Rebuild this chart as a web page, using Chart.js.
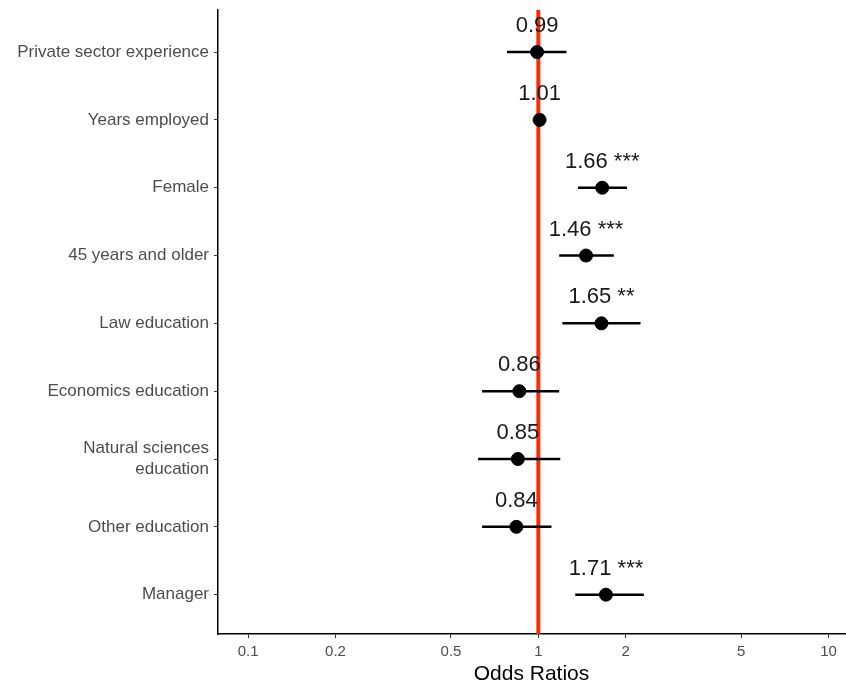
<!DOCTYPE html>
<html>
<head>
<meta charset="utf-8">
<script src="https://cdn.jsdelivr.net/npm/chart.js@4.4.1/dist/chart.umd.min.js"></script>
<style>
  html, body { margin: 0; padding: 0; background: #fff; }
  #wrap { width: 846px; height: 689px; }
</style>
</head>
<body>
<div id="wrap"><canvas id="forest"></canvas></div>
<script>
// odds ratios
const categories = ['Private sector experience', 'Years employed', 'Female', '45 years and older',
    'Law education', 'Economics education', ['Natural sciences', 'education'], 'Other education', 'Manager'];
const oddsRatios = [0.99, 1.01, 1.66, 1.46, 1.65, 0.86, 0.85, 0.84, 1.71];
const ciLow  = [0.78, 1.00, 1.37, 1.18, 1.21, 0.64, 0.62, 0.64, 1.34];
const ciHigh = [1.25, 1.02, 2.02, 1.82, 2.25, 1.18, 1.19, 1.11, 2.31];
const stars = ['', '', '***', '***', '**', '', '', '', '***'];
const xTicks = [0.1, 0.2, 0.5, 1, 2, 5, 10];

const points = oddsRatios.map((v, i) => ({ x: v, y: i }));
const FONT = '"Liberation Sans", Arial, sans-serif';

const forestPlugin = {
    id: 'forest',
    beforeDatasetsDraw(chart) {
        const { ctx, scales: { x, y }, chartArea } = chart;
        ctx.save();
        // reference line at 1
        const x1 = x.getPixelForValue(1);
        ctx.strokeStyle = '#ff2a00';
        ctx.lineWidth = 4;
        ctx.beginPath();
        ctx.moveTo(x1, chartArea.top);
        ctx.lineTo(x1, chartArea.bottom);
        ctx.stroke();
        // error bars
        ctx.strokeStyle = '#000';
        ctx.lineWidth = 2.5;
        for (let i = 0; i < oddsRatios.length; i++) {
            const py = y.getPixelForValue(i);
            ctx.beginPath();
            ctx.moveTo(x.getPixelForValue(ciLow[i]), py);
            ctx.lineTo(x.getPixelForValue(ciHigh[i]), py);
            ctx.stroke();
        }
        ctx.restore();
    },
    afterDatasetsDraw(chart) {
        const { ctx, scales: { x, y } } = chart;
        ctx.save();
        ctx.font = '22px ' + FONT;
        ctx.fillStyle = '#1a1a1a';
        ctx.textAlign = 'center';
        ctx.textBaseline = 'middle';
        for (let i = 0; i < oddsRatios.length; i++) {
            const label = oddsRatios[i].toFixed(2) + (stars[i] ? ' ' + stars[i] : '');
            ctx.fillText(label, x.getPixelForValue(oddsRatios[i]), y.getPixelForValue(i) - 26);
        }
        ctx.restore();
    }
};

new Chart(document.getElementById('forest'), {
    type: 'scatter',
    data: {
        datasets: [{
            data: points,
            backgroundColor: '#000',
            borderColor: '#000',
            pointRadius: 6.5,
            pointHoverRadius: 6.5
        }]
    },
    options: {
        responsive: true,
        maintainAspectRatio: false,
        animation: false,
        layout: { autoPadding: false, padding: { top: 10, right: 1, left: 0, bottom: 0 } },
        plugins: { legend: { display: false }, tooltip: { enabled: false } },
        scales: {
            x: {
                type: 'logarithmic',
                min: 0.0787,
                max: 11.4,
                afterBuildTicks(scale) {
                    scale.ticks = xTicks.map(v => ({ value: v }));
                },
                afterFit(scale) {
                    scale.height = 55;
                    scale.paddingLeft = 0;
                    scale.paddingRight = 0;
                },
                ticks: {
                    color: '#4d4d4d',
                    font: { family: FONT, size: 15 },
                    padding: 5,
                    maxRotation: 0,
                    autoSkip: false,
                    callback: v => String(v)
                },
                grid: { drawOnChartArea: false, drawTicks: true, tickLength: 4, color: '#333', lineWidth: 1 },
                border: { display: true, color: '#000', width: 1.5 },
                title: {
                    display: true,
                    text: 'Odds Ratios',
                    color: '#000',
                    font: { family: FONT, size: 21 },
                    padding: { top: 2, bottom: 2 }
                }
            },
            y: {
                type: 'linear',
                reverse: true,
                min: -0.62,
                max: 8.58,
                afterBuildTicks(scale) {
                    scale.ticks = categories.map((c, i) => ({ value: i }));
                },
                afterFit(scale) {
                    scale.width = 218;
                    scale.paddingTop = 0;
                    scale.paddingBottom = 0;
                },
                ticks: {
                    color: '#4d4d4d',
                    font: { family: FONT, size: 17 },
                    padding: 5,
                    autoSkip: false,
                    callback: v => categories[v]
                },
                grid: { drawOnChartArea: false, drawTicks: true, tickLength: 4, color: '#333', lineWidth: 1 },
                border: { display: true, color: '#000', width: 1.5 }
            }
        }
    },
    plugins: [forestPlugin]
});
</script>
</body>
</html>
